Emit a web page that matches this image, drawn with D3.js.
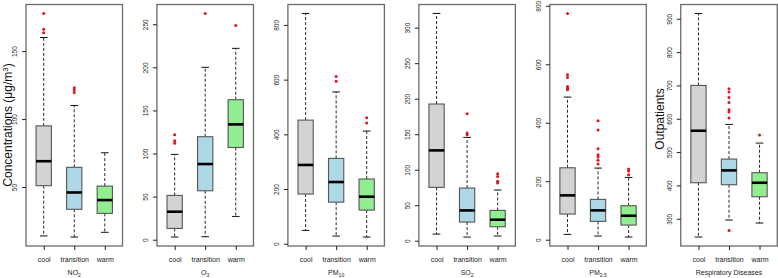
<!DOCTYPE html>
<html>
<head>
<meta charset="utf-8">
<script src="https://cdn.jsdelivr.net/npm/d3@7"></script>
<style>
  body { margin: 0; background: #fff; }
  svg { font-family: "Liberation Sans", Arial, sans-serif; }
</style>
</head>
<body>
<div id="chart"></div>
<script>
const width = 778, height = 278;

// seasons on the x axis of every panel
const seasons = ["cool", "transition", "warm"];
const seasonColors = ["#d3d3d3", "#add8e6", "#90ee90"];

// panel titles: [main text, subscript]
const titles = [["NO", "2"], ["O", "3"], ["PM", "10"], ["SO", "2"], ["PM", "2.5"], ["Respiratory Diseases", ""]];

// box stats per season: [lower whisker, Q1, median, Q3, upper whisker]
const no2Stats = [[14, 51, 69, 95, 160], [13.2, 33.6, 46, 64.5, 110], [16.7, 30.6, 40.4, 50.7, 75.2]];
const o3Stats = [[3.1, 13.1, 32.5, 51.4, 99], [3.5, 56.8, 87.8, 119.5, 200], [27, 107, 133.8, 162.4, 222]];
const pm10Stats = [[48.8, 181.7, 288, 452, 842], [28, 152, 225.6, 312, 555], [24.4, 123, 172, 236.6, 412]];
const so2Stats = [[9.4, 75.1, 127.2, 192.5, 320], [5.2, 26.3, 42.7, 74.2, 145.5], [6.6, 19.7, 29.6, 42.7, 71.4]];
const pm25Stats = [[18.2, 87.7, 151.6, 246, 487.7], [12.5, 62.7, 100.3, 137.9, 245], [9.1, 50.1, 82, 116.2, 213]];
const respStats = [[245, 408, 564, 700, 916], [296, 402, 445, 479, 583], [287, 366, 408, 438, 527]];

// outliers per season
const no2Outliers = [[177.7, 166, 163.5], [123, 121.3, 119.6], []];
const o3Outliers = [[121.8, 114.8, 112], [262.5], [248.6]];
const pm10Outliers = [[], [611, 594], [461, 441]];
const so2Outliers = [[], [178.9, 151.6, 149.3], [94.4, 90.6, 83.6, 81.2]];
const pm25Outliers = [[773.8, 564, 555, 524, 518, 513], [406.8, 375, 311, 290.6, 282.6, 272, 258.7], [241.6, 234.8, 222.2]];
const respOutliers = [[], [690, 680, 664, 649, 627, 620, 602, 265], [551]];

// y tick values per panel
const no2Ticks = [50, 100, 150];
const o3Ticks = [0, 50, 100, 150, 200, 250];
const pm10Ticks = [0, 200, 400, 600, 800];
const so2Ticks = [0, 50, 100, 150, 200, 250, 300];
const pm25Ticks = [0, 200, 400, 600, 800];
const respTicks = [300, 400, 500, 600, 700, 800, 900];

const panels = [
  { stats: no2Stats, outliers: no2Outliers, ticks: no2Ticks },
  { stats: o3Stats, outliers: o3Outliers, ticks: o3Ticks },
  { stats: pm10Stats, outliers: pm10Outliers, ticks: pm10Ticks },
  { stats: so2Stats, outliers: so2Outliers, ticks: so2Ticks },
  { stats: pm25Stats, outliers: pm25Outliers, ticks: pm25Ticks },
  { stats: respStats, outliers: respOutliers, ticks: respTicks }
];

const plotTop = 4.5, plotBottom = 246, panelW = 96.5, step = 130.95, left0 = 26;
const boxWex = 0.5;

const svg = d3.select("#chart")
  .append("svg")
  .attr("width", width)
  .attr("height", height);

// y titles (drawn first so tick labels sit on top)
const yt = svg.append("text")
  .attr("transform", "translate(11.5,125) rotate(-90)")
  .attr("text-anchor", "middle")
  .attr("font-size", 12)
  .attr("fill", "#111")
  .text("Concentrations (μg/m");
yt.append("tspan").attr("dy", -4).attr("font-size", 8).text("3");
yt.append("tspan").attr("dy", 4).text(")");

svg.append("text")
  .attr("transform", "translate(663.5,119) rotate(-90)")
  .attr("text-anchor", "middle")
  .attr("font-size", 12)
  .attr("fill", "#111")
  .text("Outpatients");

panels.forEach((p, i) => {
  const g = svg.append("g").attr("transform", `translate(${left0 + i * step},0)`);

  // R style range: data extent padded by 4%
  const all = p.stats.flat().concat(p.outliers.flat());
  const lo = d3.min(all), hi = d3.max(all), pad = (hi - lo) * 0.04;

  const x = d3.scaleLinear().domain([0.42, 3.58]).range([0, panelW]);
  const y = d3.scaleLinear().domain([lo - pad, hi + pad]).range([plotBottom, plotTop]);

  const half = x(1 + boxWex / 2) - x(1);
  const capHalf = half / 2;

  p.stats.forEach((s, j) => {
    const cx = x(j + 1);
    const [wl, q1, med, q3, wh] = s;
    const b = g.append("g");
    // whiskers
    b.selectAll("line.whisker")
      .data([[q3, wh], [q1, wl]])
      .join("line")
      .attr("x1", cx).attr("x2", cx)
      .attr("y1", d => y(d[0])).attr("y2", d => y(d[1]))
      .attr("stroke", "#111").attr("stroke-width", 0.9)
      .attr("stroke-dasharray", "3,2");
    // caps
    b.selectAll("line.cap")
      .data([wh, wl])
      .join("line")
      .attr("x1", cx - capHalf).attr("x2", cx + capHalf)
      .attr("y1", d => y(d)).attr("y2", d => y(d))
      .attr("stroke", "#111").attr("stroke-width", 1);
    // box
    b.append("rect")
      .attr("x", cx - half)
      .attr("y", y(q3))
      .attr("width", half * 2)
      .attr("height", y(q1) - y(q3))
      .attr("fill", seasonColors[j])
      .attr("stroke", "#555")
      .attr("stroke-width", 1.1);
    // median
    b.append("line")
      .attr("x1", cx - half).attr("x2", cx + half)
      .attr("y1", y(med)).attr("y2", y(med))
      .attr("stroke", "#000").attr("stroke-width", 2.6);
    // outliers
    b.selectAll("circle")
      .data(p.outliers[j])
      .join("circle")
      .attr("cx", cx)
      .attr("cy", d => y(d))
      .attr("r", 1.5)
      .attr("fill", "#e0141e");
  });

  // frame
  g.append("rect")
    .attr("x", 0).attr("y", plotTop)
    .attr("width", panelW).attr("height", plotBottom - plotTop)
    .attr("fill", "none")
    .attr("stroke", "#6b6b6b")
    .attr("stroke-width", 1.3);

  // y axis
  const ya = g.append("g")
    .call(d3.axisLeft(y).tickValues(p.ticks).tickSize(4).tickSizeOuter(0));
  ya.select(".domain").remove();
  ya.selectAll(".tick line").attr("stroke", "#222");
  ya.selectAll(".tick text")
    .attr("x", 0).attr("dy", 0)
    .attr("text-anchor", "middle")
    .attr("transform", "translate(-9,0) rotate(-90)")
    .attr("font-size", 6.5)
    .attr("fill", "#222");

  // x axis
  const xa = g.append("g")
    .attr("transform", `translate(0,${plotBottom})`)
    .call(d3.axisBottom(x).tickValues([1, 2, 3]).tickFormat(d => seasons[d - 1]).tickSize(4).tickSizeOuter(0));
  xa.select(".domain").remove();
  xa.selectAll(".tick line").attr("stroke", "#222");
  xa.selectAll(".tick text")
    .attr("y", 15.5).attr("dy", 0)
    .attr("font-size", 7)
    .attr("fill", "#222");

  // panel title below
  const t = g.append("text")
    .attr("x", panelW / 2)
    .attr("y", 275)
    .attr("text-anchor", "middle")
    .attr("font-size", 7)
    .attr("fill", "#222")
    .text(titles[i][0]);
  if (titles[i][1]) {
    t.append("tspan")
      .attr("dy", 1.8)
      .attr("font-size", 5)
      .text(titles[i][1]);
  }
});
</script>
</body>
</html>
